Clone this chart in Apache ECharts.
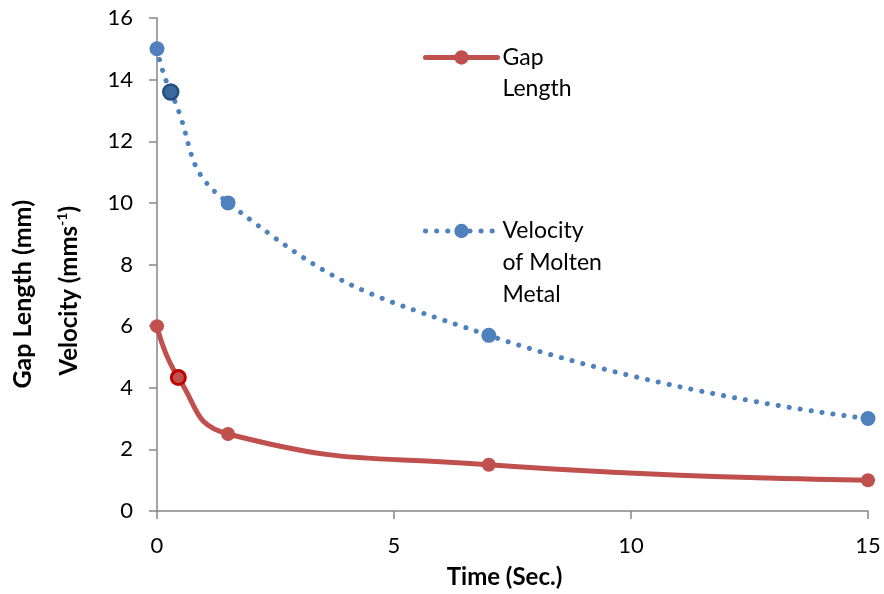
<!DOCTYPE html>
<html>
<head>
<meta charset="utf-8">
<script src="https://cdn.jsdelivr.net/npm/echarts@6/dist/echarts.min.js"></script>
<style>
  html, body { margin: 0; padding: 0; background: #ffffff; }
  #chart { width: 884px; height: 594px; }
</style>
</head>
<body>
<div id="chart"></div>
<script>
// Time (s) and measured values for the two curves
var gapTime = [0, 0.45, 1.5, 7, 15];
var gapLength = [6, 4.33, 2.5, 1.5, 1];
var velTime = [0, 0.29, 1.5, 7, 15];
var velocity = [15, 13.6, 10, 5.7, 3];

var xTicks = [0, 5, 10, 15];
var yTicks = [0, 2, 4, 6, 8, 10, 12, 14, 16];

var FONT = 'Lato';
var RED = '#c0504d';
var BLUE = '#4f81bd';

function pairs(xs, ys, highlight) {
  return xs.map(function (x, i) {
    var p = { value: [x, ys[i]] };
    if (i === 1) p.itemStyle = highlight;
    return p;
  });
}

// Legend text sits beside the icon on its first line: pad the block with
// leading blank lines so the icon lines up with the first line of text.
function firstLineAligned(name) {
  var extra = name.split('\n').length - 1;
  return new Array(extra + 1).join('\n') + name;
}

var chart = echarts.init(document.getElementById('chart'), null, { renderer: 'canvas' });

chart.setOption({
  animation: false,
  backgroundColor: '#ffffff',
  textStyle: { fontFamily: FONT },
  grid: { left: 157, right: 16, top: 18, bottom: 83, containLabel: false, outerBoundsMode: 'none' },
  xAxis: {
    type: 'value',
    min: xTicks[0],
    max: xTicks[xTicks.length - 1],
    interval: 5,
    name: 'Time (Sec.)',
    nameLocation: 'middle',
    nameGap: 54,
    nameTextStyle: { fontFamily: FONT, fontSize: 24, fontWeight: 'bold', color: '#000', padding: [0, 16, 0, 0] },
    axisLine: { lineStyle: { color: '#868686', width: 1.5 } },
    axisTick: { show: true, length: 8, lineStyle: { color: '#868686', width: 1.5 } },
    axisLabel: { fontFamily: FONT, fontSize: 22, color: '#000', margin: 24 },
    splitLine: { show: false }
  },
  yAxis: {
    type: 'value',
    min: yTicks[0],
    max: yTicks[yTicks.length - 1],
    interval: 2,
    axisLine: { show: true, lineStyle: { color: '#868686', width: 1.5 } },
    axisTick: { show: true, length: 8, lineStyle: { color: '#868686', width: 1.5 } },
    axisLabel: { fontFamily: FONT, fontSize: 22, color: '#000', margin: 24 },
    splitLine: { show: false }
  },
  legend: [
    {
      data: ['Gap\nLength'],
      formatter: firstLineAligned,
      left: 423,
      top: 11,
      padding: 0,
      orient: 'vertical',
      itemWidth: 72,
      itemHeight: 18,
      itemGap: 0,
      lineStyle: { width: 5 },
      textStyle: { fontFamily: FONT, fontSize: 23, color: '#000', lineHeight: 31 }
    },
    {
      data: ['Velocity\nof Molten\nMetal'],
      formatter: firstLineAligned,
      left: 423,
      top: 151,
      padding: 0,
      orient: 'vertical',
      itemWidth: 72,
      itemHeight: 18,
      itemGap: 0,
      lineStyle: { width: 5 },
      textStyle: { fontFamily: FONT, fontSize: 23, color: '#000', lineHeight: 32 }
    }
  ],
  graphic: [
    {
      type: 'text',
      left: 10,
      top: 200,
      rotation: Math.PI / 2,
      style: {
        text: 'Gap Length (mm)',
        fontFamily: FONT,
        fontSize: 25,
        fontWeight: 'bold',
        fill: '#000'
      }
    },
    {
      type: 'text',
      left: 55,
      top: 206,
      rotation: Math.PI / 2,
      style: {
        text: '{a|Velocity (mms}{s|-1}{a|)}',
        rich: {
          a: { fontFamily: FONT, fontSize: 24, fontWeight: 'bold', fill: '#000', lineHeight: 28 },
          s: { fontFamily: FONT, fontSize: 14, fontWeight: 'bold', fill: '#000', verticalAlign: 'top', lineHeight: 28 }
        }
      }
    }
  ],
  series: [
    {
      name: 'Gap\nLength',
      type: 'line',
      smooth: 0.5,
      data: pairs(gapTime, gapLength, { color: RED, borderColor: '#c00000', borderWidth: 3 }),
      symbol: 'circle',
      symbolSize: 14,
      lineStyle: { color: RED, width: 5, cap: 'round' },
      itemStyle: { color: RED },
      z: 3
    },
    {
      name: 'Velocity\nof Molten\nMetal',
      type: 'line',
      smooth: 0.5,
      data: pairs(velTime, velocity, { color: '#3a689f', borderColor: '#24507f', borderWidth: 2.5 }),
      symbol: 'circle',
      symbolSize: 15,
      lineStyle: { color: BLUE, width: 5, type: [0.1, 11], cap: 'round' },
      itemStyle: { color: BLUE },
      z: 2
    }
  ]
});
</script>
</body>
</html>
